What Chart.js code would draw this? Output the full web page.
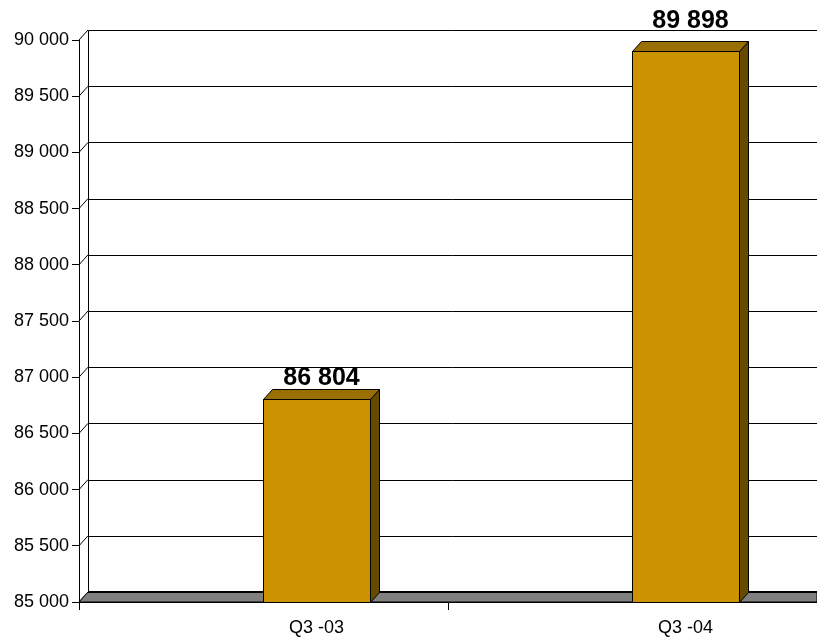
<!DOCTYPE html>
<html>
<head>
<meta charset="utf-8">
<script src="https://cdn.jsdelivr.net/npm/chart.js@4/dist/chart.umd.min.js"></script>
<style>
  html, body { margin: 0; padding: 0; background: #fff; }
  #wrap { width: 817px; height: 637px; }
</style>
</head>
<body>
<div id="wrap"><canvas id="c" width="817" height="637"></canvas></div>
<script>
// Quarterly totals
const categories = ['Q3 -03', 'Q3 -04'];
const values = [86804, 89898];

// Value axis range
const yMin = 85000;
const yMax = 90000;
const yStep = 500;

// 3D look
const DEPTH_X = 9;
const DEPTH_Y = -10;
const BAR_SHIFT = 53;          // bars sit toward the front of the category slot
const LABEL_LIFT = [14, 23];   // gap between bar top and its value label

const FRONT = '#cc9200';
const TOP = '#9a6e00';
const SIDE = '#664a00';
const FLOOR = '#808080';

const fmt = v => String(Math.round(v)).replace(/\B(?=(\d{3})+(?!\d))/g, ' ');
const px = v => Math.round(v) + 0.5;

const threeD = {
  id: 'threeD',
  beforeDatasetsDraw(chart) {
    const ctx = chart.ctx;
    const { left, right, bottom } = chart.chartArea;
    const y = chart.scales.y;
    ctx.save();
    ctx.strokeStyle = '#000';
    ctx.lineWidth = 1;
    // back wall grid lines and the connectors on the left wall
    for (let v = yMin; v <= yMax; v += yStep) {
      const yf = y.getPixelForValue(v);
      ctx.beginPath();
      ctx.moveTo(px(left + DEPTH_X), px(yf + DEPTH_Y));
      ctx.lineTo(right, px(yf + DEPTH_Y));
      ctx.stroke();
      ctx.beginPath();
      ctx.moveTo(left, yf);
      ctx.lineTo(left + DEPTH_X, yf + DEPTH_Y);
      ctx.stroke();
    }
    // back wall left edge
    const yTop = y.getPixelForValue(yMax);
    ctx.beginPath();
    ctx.moveTo(px(left + DEPTH_X), px(yTop + DEPTH_Y));
    ctx.lineTo(px(left + DEPTH_X), px(bottom + DEPTH_Y));
    ctx.stroke();
    // floor
    ctx.beginPath();
    ctx.moveTo(left, bottom);
    ctx.lineTo(left + DEPTH_X, bottom + DEPTH_Y);
    ctx.lineTo(right, bottom + DEPTH_Y);
    ctx.lineTo(right, bottom);
    ctx.closePath();
    ctx.fillStyle = FLOOR;
    ctx.fill();
    ctx.stroke();
    ctx.lineWidth = 2;
    ctx.beginPath();
    ctx.moveTo(left + DEPTH_X, bottom + DEPTH_Y);
    ctx.lineTo(right, bottom + DEPTH_Y);
    ctx.stroke();
    ctx.restore();
  },
  afterDatasetsDraw(chart) {
    const ctx = chart.ctx;
    const meta = chart.getDatasetMeta(0);
    ctx.save();
    ctx.strokeStyle = '#000';
    ctx.lineWidth = 1;
    ctx.lineJoin = 'miter';
    meta.data.forEach((bar, i) => {
      const p = bar.getProps(['x', 'y', 'base', 'width'], true);
      const x1 = px(p.x + BAR_SHIFT - p.width / 2);
      const x2 = px(p.x + BAR_SHIFT + p.width / 2);
      const yt = px(p.y);
      const yb = px(p.base);
      // side face
      ctx.beginPath();
      ctx.moveTo(x2, yt);
      ctx.lineTo(x2 + DEPTH_X, yt + DEPTH_Y);
      ctx.lineTo(x2 + DEPTH_X, yb + DEPTH_Y);
      ctx.lineTo(x2, yb);
      ctx.closePath();
      ctx.fillStyle = SIDE;
      ctx.fill();
      ctx.stroke();
      // top face
      ctx.beginPath();
      ctx.moveTo(x1, yt);
      ctx.lineTo(x1 + DEPTH_X, yt + DEPTH_Y);
      ctx.lineTo(x2 + DEPTH_X, yt + DEPTH_Y);
      ctx.lineTo(x2, yt);
      ctx.closePath();
      ctx.fillStyle = TOP;
      ctx.fill();
      ctx.stroke();
      // front face
      ctx.fillStyle = FRONT;
      ctx.fillRect(x1, yt, x2 - x1, yb - yt);
      ctx.strokeRect(x1, yt, x2 - x1, yb - yt);
      // value label
      ctx.fillStyle = '#000';
      ctx.font = 'bold 25px "Liberation Sans", Arial, sans-serif';
      ctx.textAlign = 'center';
      ctx.textBaseline = 'alphabetic';
      ctx.fillText(fmt(values[i]), (x1 + x2) / 2 + DEPTH_X / 2, p.y - LABEL_LIFT[i]);
    });
    ctx.restore();
  }
};

new Chart(document.getElementById('c'), {
  type: 'bar',
  data: {
    labels: categories,
    datasets: [{
      data: values,
      base: yMin,
      backgroundColor: 'rgba(0,0,0,0)',
      borderWidth: 0,
      categoryPercentage: 1,
      barPercentage: 0.29
    }]
  },
  options: {
    responsive: false,
    animation: false,
    layout: { padding: { top: 40, left: 0, right: 0, bottom: 0 } },
    plugins: { legend: { display: false }, tooltip: { enabled: false } },
    scales: {
      x: {
        type: 'category',
        offset: true,
        afterFit: s => { s.height = 35; },
        grid: { offset: true, drawOnChartArea: false, drawTicks: true, tickLength: 8, color: '#000' },
        border: { display: true, color: '#000' },
        ticks: {
          color: '#000',
          padding: 7,
          labelOffset: BAR_SHIFT,
          maxRotation: 0,
          font: { family: '"Liberation Sans", Arial, sans-serif', size: 18 }
        }
      },
      y: {
        min: yMin,
        max: yMax,
        afterFit: s => { s.width = 79; },
        grid: { drawOnChartArea: false, drawTicks: true, tickLength: 7, color: '#000' },
        border: { display: true, color: '#000' },
        ticks: {
          stepSize: yStep,
          color: '#000',
          padding: 3,
          callback: v => fmt(v),
          font: { family: '"Liberation Sans", Arial, sans-serif', size: 18 }
        }
      }
    }
  },
  plugins: [threeD]
});
</script>
</body>
</html>
